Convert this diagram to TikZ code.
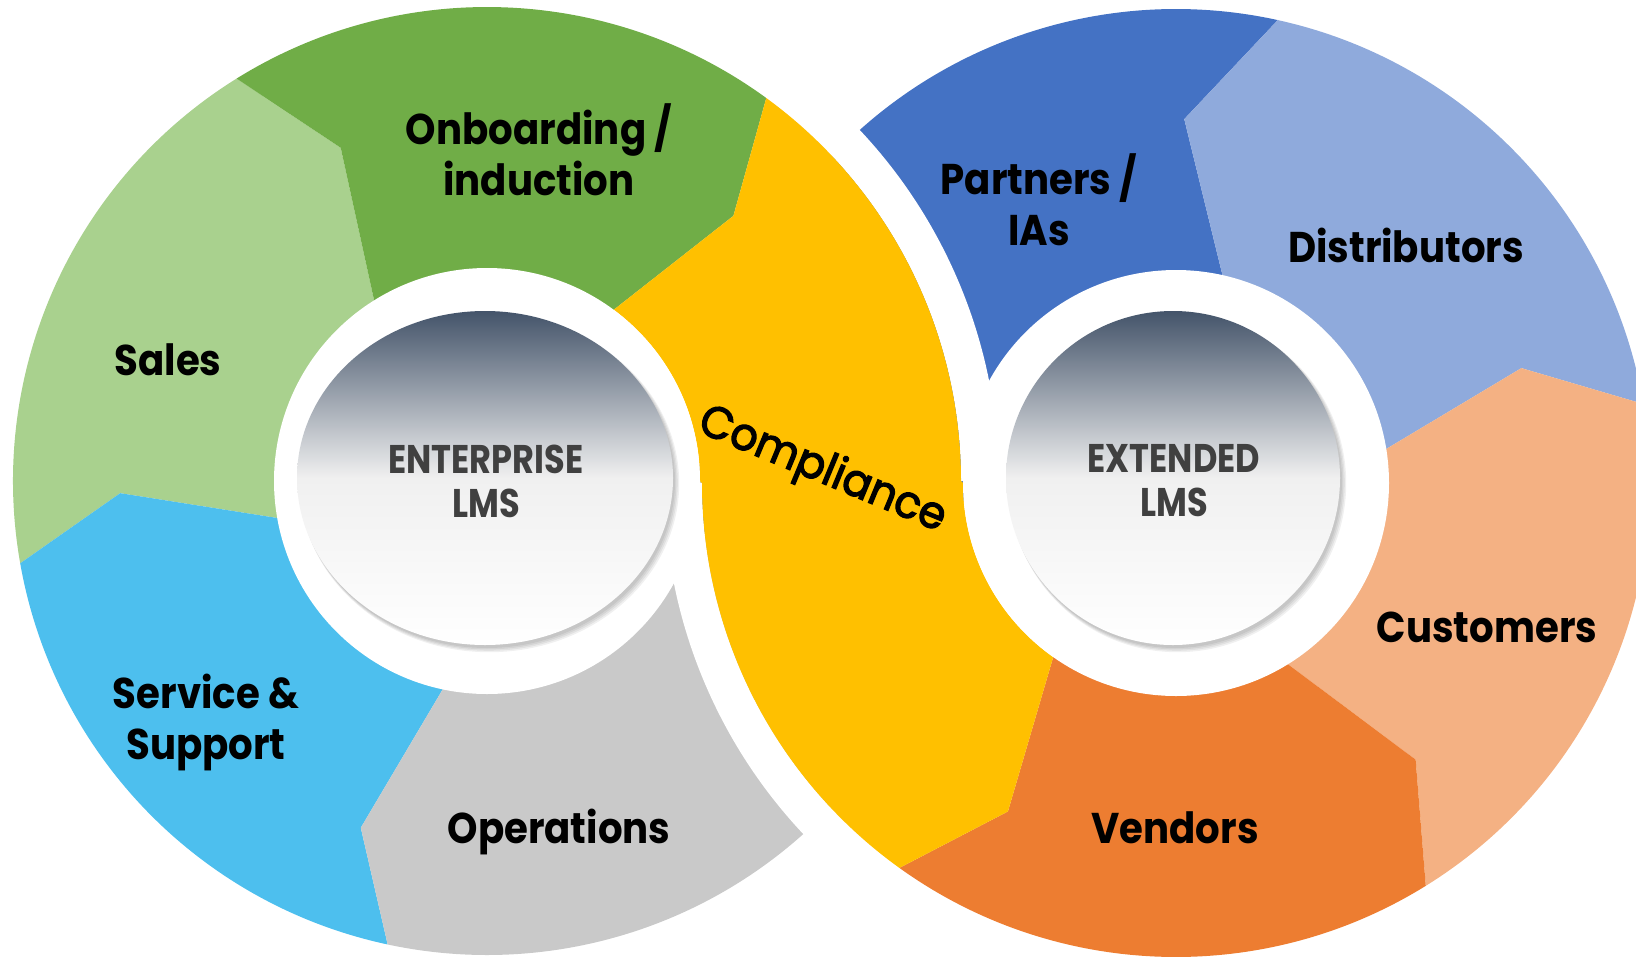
\documentclass[tikz,border=0pt]{standalone}
\usepackage{fontspec}
\usetikzlibrary{calc}
\newfontfamily\labfont{Poppins}[FakeStretch=0.9]
\newfontfamily\compfont{Poppins}[FakeStretch=0.95, FakeBold=2.8]
\newfontfamily\lmsfont{Poppins}[FakeStretch=0.84]
\definecolor{salesc}{HTML}{A9D18E}
\definecolor{onbc}{HTML}{70AD47}
\definecolor{yel}{HTML}{FFC000}
\definecolor{grayc}{HTML}{C9C9C9}
\definecolor{servc}{HTML}{4DBFEE}
\definecolor{partc}{HTML}{4472C4}
\definecolor{distc}{HTML}{8FAADC}
\definecolor{custc}{HTML}{F4B183}
\definecolor{vendc}{HTML}{ED7D31}
\definecolor{slate}{HTML}{44546A}
\definecolor{midg}{HTML}{F0F0F0}
\definecolor{lmstext}{HTML}{404040}
\tikzset{
  lab/.style={font=\labfont\bfseries\fontsize{43}{51}\selectfont, text=black, align=center, inner sep=0pt},
  comp/.style={font=\compfont\fontsize{45}{51}\selectfont, text=black, inner sep=0pt},
  lms/.style={font=\lmsfont\bfseries\fontsize{40}{44}\selectfont, text=lmstext, align=center, inner sep=0pt},
  gap/.style={white, line width=38pt},
  shadowlayer/.style={black, opacity=0.06}
}
\begin{document}
\begin{tikzpicture}[x=1pt,y=1pt]
\useasboundingbox (0,0) rectangle (1636,-959);
\clip (0,0) rectangle (1636,-959);
\coordinate (L) at (487,-481);
\coordinate (R) at (1176,-483);
\coordinate (EL) at (485,-478);
\coordinate (ER) at (1173,-478);

% left ring
\begin{scope}[shift={(L)}]
  \fill[salesc] (0,0) -- (122:213) -- (113.7:364) -- (121.9:474) arc[start angle=121.9,end angle=190,radius=474] -- (181.9:367) -- (190:213) -- cycle;
  \fill[onbc] (0,0) -- (53.5:213) -- (47.1:362) -- (53.9:474) arc[start angle=53.9,end angle=121.9,radius=474] -- (113.7:364) -- (122:213) -- cycle;
  \fill[servc] (0,0) -- (190:213) -- (181.9:367) -- (190:474) arc[start angle=190,end angle=257.9,radius=474] -- (250:369) -- (258:213) -- cycle;
  \fill[grayc] (0,0) -- (258:213) -- (250:369) -- (257.9:474) arc[start angle=257.9,end angle=365,radius=474] -- cycle;
\end{scope}

% right ring
\begin{scope}[shift={(R)}]
  \fill[partc] (0,0) -- (77.4:213) -- (88.7:364) -- (77.6:474) arc[start angle=77.6,end angle=186,radius=474] -- cycle;
  \fill[distc] (0,0) -- (9.2:213) -- (18.4:364) -- (9.6:474) arc[start angle=9.6,end angle=77.6,radius=474] -- (88.7:364) -- (77.4:213) -- cycle;
  \fill[custc] (0,0) -- (-58.3:213) -- (-49.1:366) -- (-58.2:474) arc[start angle=-58.2,end angle=9.6,radius=474] -- (18.4:364) -- (9.2:213) -- cycle;
  \fill[vendc] (0,0) -- (-125.2:213) -- (-117.1:369) -- (-125.7:474) arc[start angle=-125.7,end angle=-58.2,radius=474] -- (-49.1:366) -- (-58.3:213) -- cycle;
\end{scope}

% white gaps where the compliance band crosses
\draw[gap] ($(L)+(53.9:493)$) arc[start angle=53.9,end angle=0,radius=493];
\draw[gap] ($(R)+(180:493)$) arc[start angle=180,end angle=234.3,radius=493];

% compliance S band
\fill[yel] ($(L)+(0:213)$) arc[start angle=0,end angle=53.5,radius=213]
  -- ($(L)+(47.1:362)$) -- ($(L)+(53.9:474)$)
  arc[start angle=53.9,end angle=0,radius=474]
  -- ($(R)+(180:213)$) arc[start angle=180,end angle=234.8,radius=213]
  -- ($(R)+(242.9:369)$) -- ($(R)+(234.3:474)$)
  arc[start angle=234.3,end angle=180,radius=474] -- cycle;

% inner white discs
\fill[white] (L) circle[radius=213];
\fill[white] (R) circle[radius=213];

% shadows
\foreach \k in {0,1,2,3}{
  \fill[shadowlayer] ($(EL)+(2+0.8*\k,-3-0.8*\k)$) ellipse[x radius=188+0.6*\k, y radius=167+0.6*\k];
  \fill[shadowlayer] ($(ER)+(2+0.8*\k,-3-0.8*\k)$) circle[radius=167+0.6*\k];
}
% gradient discs
\shade[top color=slate, bottom color=white, middle color=midg] (EL) ellipse[x radius=188, y radius=167];
\shade[top color=slate, bottom color=white, middle color=midg] (ER) circle[radius=167];

% labels
\node[lab] (onb) at (539,-150) {Onboarding /\\induction};
\node[lab] (sales) at (168,-360) {Sales};
\node[lab] (serv) at (206,-722) {Service \&\\Support};
\node[lab] (ops) at (559,-832) {Operations};
\node[comp, rotate=-22.5] (comp) at (822,-471) {Compliance};
\node[lab] (part) at (1039,-200) {Partners /\\IAs};
\node[lab] (dist) at (1406,-245) {Distributors};
\node[lab] (cust) at (1487,-627) {Customers};
\node[lab] (vend) at (1175,-828) {Vendors};
\node[lms] (ent) at (486,-481) {ENTERPRISE\\LMS};
\node[lms] (ext) at (1174,-481) {EXTENDED\\LMS};
\end{tikzpicture}
\end{document}
